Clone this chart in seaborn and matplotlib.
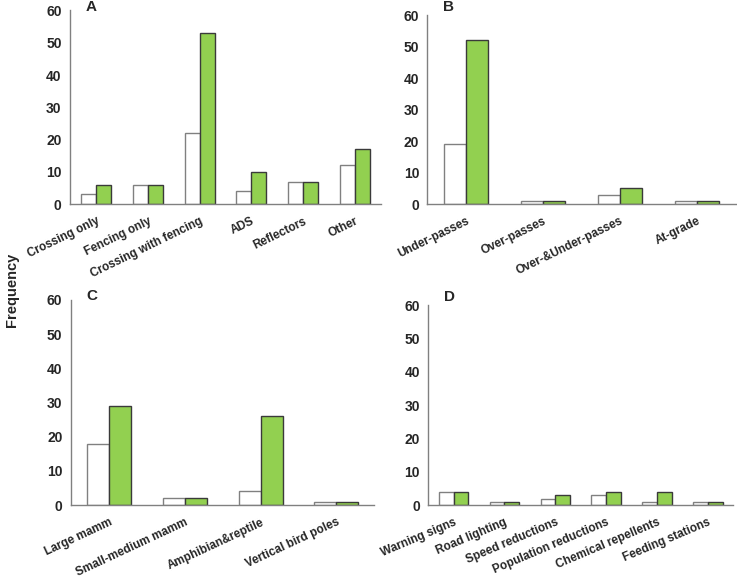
import matplotlib
matplotlib.use("Agg")
import matplotlib.pyplot as plt
import seaborn as sns
import pandas as pd

# panel A - measure types
cats_a = ["Crossing only", "Fencing only", "Crossing with fencing", "ADS", "Reflectors", "Other"]
white_a = [3, 6, 22, 4, 7, 12]
green_a = [6, 6, 53, 10, 7, 17]

# panel B - crossing structures
cats_b = ["Under-passes", "Over-passes", "Over-&Under-passes", "At-grade"]
white_b = [19, 1, 3, 1]
green_b = [52, 1, 5, 1]

# panel C - target groups
cats_c = ["Large mamm", "Small-medium mamm", "Amphibian&reptile", "Vertical bird poles"]
white_c = [18, 2, 4, 1]
green_c = [29, 2, 26, 1]

# panel D - other measures
cats_d = ["Warning signs", "Road lighting", "Speed reductions", "Population reductions",
          "Chemical repellents", "Feeding stations"]
white_d = [4, 1, 2, 3, 1, 1]
green_d = [4, 1, 3, 4, 4, 1]

sns.set_style("white")
plt.rcParams['font.family'] = ['Liberation Sans', 'DejaVu Sans']
plt.rcParams['font.weight'] = 'bold'

fig = plt.figure(figsize=(7.37, 5.80), dpi=100)


def panel(rect, cats, white, green, letter, letter_dy, rot):
    ax = fig.add_axes(rect)
    df = pd.DataFrame({
        "cat": cats * 2,
        "val": white + green,
        "grp": ["w"] * len(cats) + ["g"] * len(cats),
    })
    sns.barplot(data=df, x="cat", y="val", hue="grp", order=cats, hue_order=["w", "g"],
                palette=["white", "#92D050"], width=0.58, saturation=1, legend=False, ax=ax)
    for bar in ax.containers[0]:
        bar.set_edgecolor("#808080")
        bar.set_linewidth(1)
    for bar in ax.containers[1]:
        bar.set_edgecolor("#3a3a3a")
        bar.set_linewidth(1)
    n = len(cats)
    ax.set_xlim(-0.5, n - 0.5)
    ax.set_ylim(0, 60)
    ax.set_yticks(range(0, 61, 10))
    ax.set_yticklabels([str(v) for v in range(0, 61, 10)], fontsize=10, fontweight="bold")
    ax.set_xticks(range(n))
    ax.set_xticklabels(cats, rotation=rot, ha="right", va="top", rotation_mode="anchor",
                       fontsize=8.5, fontweight="bold")
    ax.set_xticks([i - 0.5 for i in range(n)], minor=True)
    ax.tick_params(axis="x", which="major", length=0, pad=8)
    ax.tick_params(axis="x", which="minor", length=4, width=1, color="#808080", direction="out")
    ax.tick_params(axis="y", length=4, width=1, color="#808080", direction="out", pad=2)
    ax.set_xlabel("")
    ax.set_ylabel("")
    sns.despine(ax=ax)
    for s in ["left", "bottom"]:
        ax.spines[s].set_color("#808080")
        ax.spines[s].set_linewidth(1)
    ax.annotate(letter, xy=(0, 1), xycoords="axes fraction", xytext=(16, letter_dy),
                textcoords="offset pixels", fontsize=11, fontweight="bold", va="center")
    return ax


panel([0.095, 0.648, 0.422, 0.334], cats_a, white_a, green_a, "A", 3, 26)
panel([0.580, 0.648, 0.418, 0.326], cats_b, white_b, green_b, "B", 8, 26)
panel([0.096, 0.129, 0.412, 0.354], cats_c, white_c, green_c, "C", 4, 25)
panel([0.581, 0.129, 0.414, 0.345], cats_d, white_d, green_d, "D", 8, 23)

fig.text(0.016, 0.5, "Frequency", rotation=90, ha="center", va="center", fontsize=10.5, fontweight="bold")

fig.savefig("out.png", dpi=100)
